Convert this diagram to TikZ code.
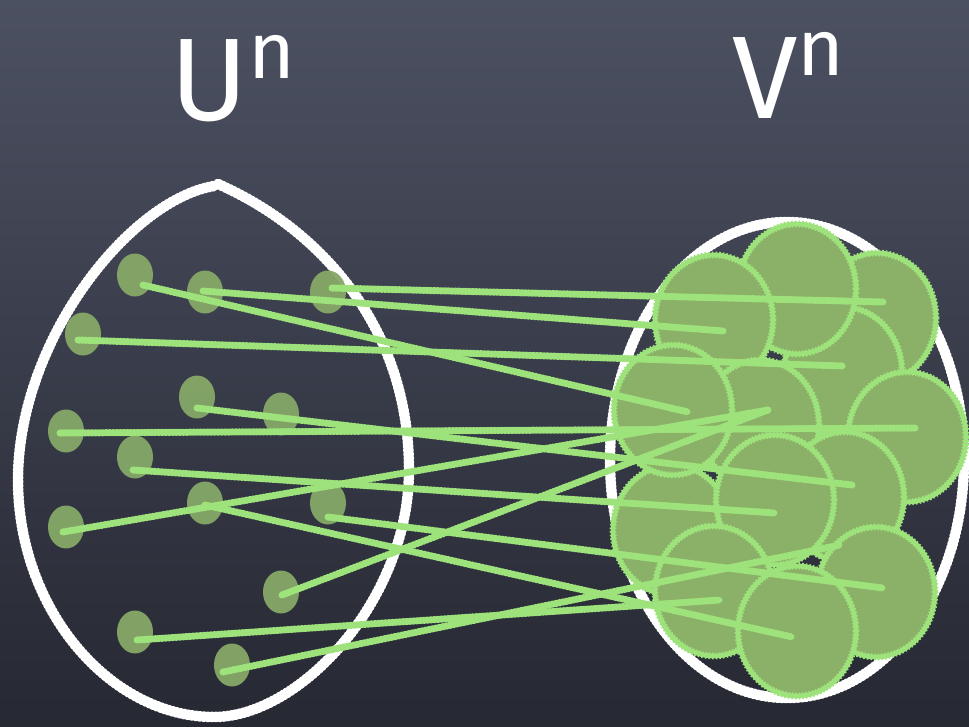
\documentclass[tikz,border=0pt]{standalone}
\usepackage{fontspec}
\newfontfamily\chalkfont{Fira Sans}
\usetikzlibrary{shapes.geometric}
\definecolor{bgtop}{RGB}{76,81,98}
\definecolor{bgbot}{RGB}{38,40,50}
\definecolor{chalkgreen}{RGB}{158,226,124}
\definecolor{ballfill}{RGB}{139,176,104}
\definecolor{dotfill}{RGB}{134,168,104}
\begin{document}
\begin{tikzpicture}[x=0.4pt,y=-0.4pt,
  chalkwhite/.style={draw=white, line width=3.3pt, line cap=round, line join=round,
     postaction={draw=white, line width=4.2pt, dash pattern=on 0.7pt off 0.9pt}},
  greenline/.style={draw=chalkgreen, line width=2pt, line cap=round, line join=round,
     postaction={draw=chalkgreen, line width=2.8pt, dash pattern=on 0.6pt off 0.8pt}},
  ball/.style={ellipse, minimum width=47.2pt, minimum height=52pt, inner sep=0pt,
     fill=ballfill, draw=chalkgreen, line width=1.9pt,
     postaction={draw=chalkgreen, line width=2.7pt, dash pattern=on 0.6pt off 0.8pt}},
  dotnode/.style={ellipse, minimum width=14.4pt, minimum height=17.2pt, inner sep=0pt,
     fill=dotfill, fill opacity=0.95},
  title/.style={text=white, font=\chalkfont\fontsize{47}{47}\selectfont, inner sep=0pt}
]
\shade[top color=bgtop, bottom color=bgbot] (0,0) rectangle (969,727);
\useasboundingbox (0,0) rectangle (969,727);

% labels
\node[title, anchor=base west] (U) at (170,120) {U\raisebox{16.8pt}{\fontsize{32}{32}\selectfont n}};
\node[title, anchor=base west] (V) at (732,118) {V\raisebox{17.2pt}{\fontsize{32}{32}\selectfont n}};

% left egg
\draw[chalkwhite] (218,184) .. controls (318,228) and (409,325) .. (409,470)
  .. controls (409,600) and (300,717) .. (214,717)
  .. controls (110,717) and (18,610) .. (18,480)
  .. controls (18,340) and (130,200) .. (214,186);

% right ellipse
\draw[chalkwhite] (787,460) ellipse [x radius=177, y radius=238];

% left points
\node[dotnode] (d1) at (135,275) {};
\node[dotnode] (d2) at (205,292) {};
\node[dotnode] (d3) at (328,292) {};
\node[dotnode] (d4) at (83,334) {};
\node[dotnode] (d5) at (197,397) {};
\node[dotnode] (d6) at (281,414) {};
\node[dotnode] (d7) at (66,431) {};
\node[dotnode] (d8) at (135,457) {};
\node[dotnode] (d9) at (205,503) {};
\node[dotnode] (d10) at (328,503) {};
\node[dotnode] (d11) at (66,527) {};
\node[dotnode] (d12) at (281,592) {};
\node[dotnode] (d13) at (135,632) {};
\node[dotnode] (d14) at (232,665) {};

% right balls
\node[ball] (bC) at (877,318) {};
\node[ball] (bD) at (843,372) {};
\node[ball] (bA) at (797,289) {};
\node[ball] (bB) at (714,320) {};
\node[ball] (bF) at (760,425) {};
\node[ball] (bG) at (907,437) {};
\node[ball] (bI) at (845,497) {};
\node[ball] (bJ) at (672,530) {};
\node[ball] (bE) at (673,410) {};
\node[ball] (bH) at (775,500) {};
\node[ball] (bK) at (876,592) {};
\node[ball] (bL) at (714,591) {};
\node[ball] (bM) at (797,631) {};

% end points
\coordinate (e1) at (688,412);
\coordinate (e2) at (723,331);
\coordinate (e3) at (883,302);
\coordinate (e4) at (843,366);
\coordinate (e5) at (852,485);
\coordinate (e7) at (915,428);
\coordinate (e8) at (775,513);
\coordinate (e9) at (792,637);
\coordinate (e10) at (883,588);
\coordinate (e11) at (768,410);
\coordinate (e13) at (720,600);
\coordinate (e14) at (840,545);

% connectors
\draw[greenline] ([shift={(8,10)}]d1.center) -- (e1);
\draw[greenline] ([shift={(-2,-1)}]d2.center) -- (e2);
\draw[greenline] ([shift={(4,-4)}]d3.center) -- (e3);
\draw[greenline] ([shift={(-5,6)}]d4.center) -- (e4);
\draw[greenline] ([shift={(0,11)}]d5.center) -- (e5);
\draw[greenline] ([shift={(-6,2)}]d7.center) -- (e7);
\draw[greenline] ([shift={(-2,13)}]d8.center) -- (e8);
\draw[greenline] ([shift={(0,2)}]d9.center) -- (e9);
\draw[greenline] ([shift={(0,14)}]d10.center) -- (e10);
\draw[greenline] ([shift={(-3,5)}]d11.center) -- (e11);
\draw[greenline] ([shift={(1,3)}]d12.center) -- (e11);
\draw[greenline] ([shift={(2,8)}]d13.center) -- (e13);
\draw[greenline] ([shift={(-9,7)}]d14.center) -- (e14);
\end{tikzpicture}
\end{document}
